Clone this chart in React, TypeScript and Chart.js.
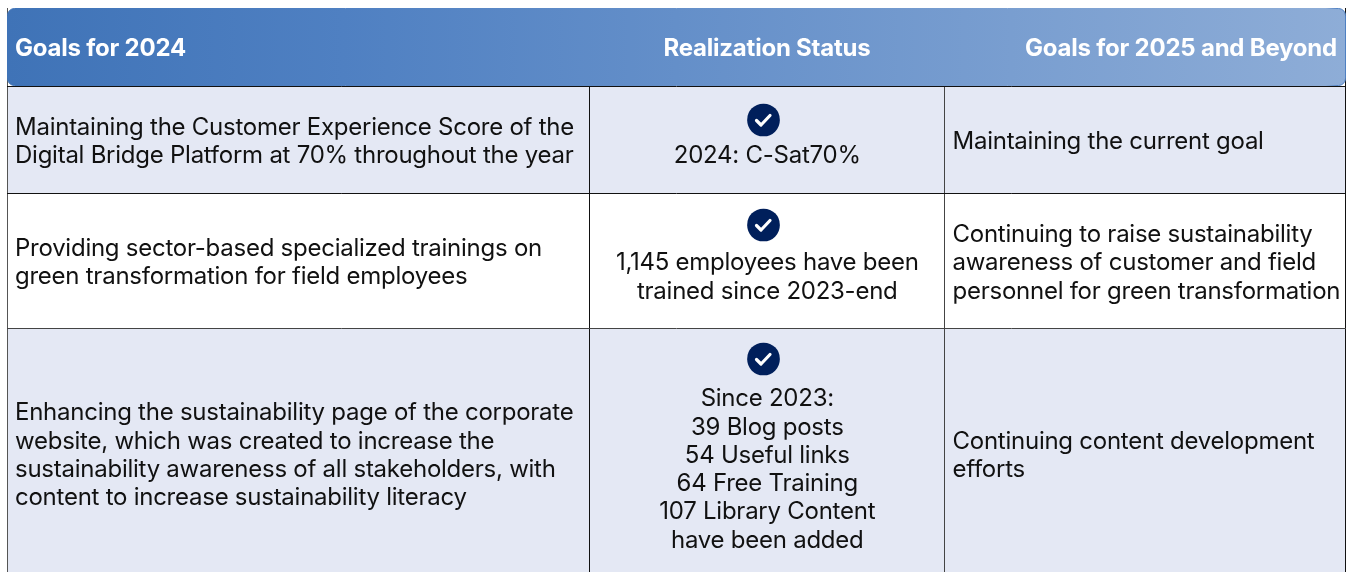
import React, { useEffect, useRef } from "react";
import { Chart, registerables } from "chart.js";

Chart.register(...registerables);

const headers = ["Goals for 2024", "Realization Status", "Goals for 2025 and Beyond"];
const goals2024 = [
  ["Maintaining the Customer Experience Score of the", "Digital Bridge Platform at 70% throughout the year"],
  ["Providing sector-based specialized trainings on", "green transformation for field employees"],
  ["Enhancing the sustainability page of the corporate", "website, which was created to increase the", "sustainability awareness of all stakeholders, with", "content to increase sustainability literacy"],
];
const realization = [
  ["2024: C-Sat70%"],
  ["1,145 employees have been", "trained since 2023-end"],
  ["Since 2023:", "39 Blog posts", "54 Useful links", "64 Free Training", "107 Library Content", "have been added"],
];
const goals2025 = [
  ["Maintaining the current goal"],
  ["Continuing to raise sustainability", "awareness of customer and field", "personnel for green transformation"],
  ["Continuing content development", "efforts"],
];

// Table geometry, in axis units
const colEdges = [7.5, 589.5, 945, 1345.5];
const rowEdges = [86.5, 193.5, 328.5, 580];
const rowFill = ["#E4E8F4", "#FFFFFF", "#E4E8F4"];
const colLineColors = ["#555555", "#111111", "#444444", "#111111"];
const rowLineColors = ["#111111", "#111111", "#444444", "#111111"];
const textCenterY = [142, 263, 455.5];
const statusFirstLineY = [156, 263, 399];
const iconX = 763.5;
const iconY = [120, 225, 359];
const iconRadius = 16;
const lineStep = 28.3;
const FONT = "Inter";
const SIZE = 24;
const bodyRefWidth = 559; // width of the first line in the reference
const headRefWidth = 312; // width of the last header in the reference

function fitSpacing(ctx: CanvasRenderingContext2D, text: string, target: number) {
  ctx.letterSpacing = "0px";
  const w = ctx.measureText(text).width;
  ctx.letterSpacing = `${(target - w) / text.length}px`;
}

const tablePlugin = {
  id: "tableText",
  afterDatasetsDraw(chart: any) {
    const { ctx, scales } = chart;
    const { x, y } = scales;
    ctx.save();
    // check marks on the icon discs
    const cx = (colEdges[1] + colEdges[2]) / 2;
    ctx.strokeStyle = "#FFFFFF";
    ctx.lineWidth = 3.2;
    ctx.lineCap = "round";
    ctx.lineJoin = "round";
    iconY.forEach((v) => {
      const px = x.getPixelForValue(iconX);
      const py = y.getPixelForValue(v);
      ctx.beginPath();
      ctx.moveTo(px - 7, py + 0.5);
      ctx.lineTo(px - 2.5, py + 5);
      ctx.lineTo(px + 6.5, py - 4.5);
      ctx.stroke();
    });
    ctx.textBaseline = "middle";
    ctx.fillStyle = "#111111";
    ctx.font = `${SIZE}px ${FONT}`;
    fitSpacing(ctx, goals2024[0][0], bodyRefWidth);
    const draw = (lines: string[], px: number, centerY: number, align: CanvasTextAlign) => {
      ctx.textAlign = align;
      const top = centerY - ((lines.length - 1) * lineStep) / 2;
      lines.forEach((t, i) => ctx.fillText(t, x.getPixelForValue(px), y.getPixelForValue(top + i * lineStep)));
    };
    goals2024.forEach((l, r) => draw(l, colEdges[0] + 7.5, textCenterY[r], "left"));
    goals2025.forEach((l, r) => draw(l, colEdges[2] + 7.5, textCenterY[r], "left"));
    realization.forEach((l, r) => {
      draw(l, cx, statusFirstLineY[r] + ((l.length - 1) * lineStep) / 2, "center");
    });
    ctx.restore();
  },
  afterDraw(chart: any) {
    // header band sits over the vertical rules
    const { ctx, scales } = chart;
    const { x, y } = scales;
    const l = x.getPixelForValue(colEdges[0]);
    const r = x.getPixelForValue(colEdges[3]);
    const t = y.getPixelForValue(8.5);
    const b = y.getPixelForValue(rowEdges[0]);
    ctx.save();
    const grad = ctx.createLinearGradient(l, 0, r, 0);
    grad.addColorStop(0, "#3F73B7");
    grad.addColorStop(0.25, "#4F80C2");
    grad.addColorStop(1, "#8EADD7");
    const edge = ctx.createLinearGradient(l, 0, r, 0);
    edge.addColorStop(0, "#3F73B7");
    edge.addColorStop(0.25, "#4F80C2");
    edge.addColorStop(0.985, "#8EADD7");
    edge.addColorStop(0.995, "#4F80C2");
    ctx.fillStyle = grad;
    ctx.strokeStyle = edge;
    ctx.lineWidth = 1;
    ctx.beginPath();
    ctx.roundRect(l, t, r - l, b - t - 1, 7);
    ctx.fill();
    ctx.stroke();
    ctx.fillStyle = "#FFFFFF";
    ctx.font = `bold ${SIZE}px ${FONT}`;
    fitSpacing(ctx, headers[2], headRefWidth);
    ctx.textBaseline = "middle";
    const hy = y.getPixelForValue(48.5);
    ctx.textAlign = "left";
    ctx.fillText(headers[0], x.getPixelForValue(15), hy);
    ctx.textAlign = "center";
    ctx.fillText(headers[1], x.getPixelForValue(767), hy);
    ctx.textAlign = "right";
    ctx.fillText(headers[2], x.getPixelForValue(1337), hy);
    ctx.restore();
  },
};

export default function App() {
  const ref = useRef<HTMLCanvasElement>(null);
  useEffect(() => {
    document.body.style.margin = "0";
    document.body.style.background = "#FFFFFF";
    const chart = new Chart(ref.current!, {
      type: "bar",
      data: {
        datasets: [
          ...iconY.map((v) => ({
            type: "bar" as const,
            indexAxis: "y" as const,
            grouped: false,
            data: [{ x: [iconX - iconRadius, iconX + iconRadius], y: v }],
            backgroundColor: "#001F5B",
            borderWidth: 0,
            borderSkipped: false,
            borderRadius: iconRadius,
            barThickness: iconRadius * 2,
            order: 0,
          })),
          ...rowFill.map((color, r) => ({
            type: "bar" as const,
            indexAxis: "y" as const,
            grouped: false,
            data: [{ x: [colEdges[0], colEdges[3]], y: (rowEdges[r] + rowEdges[r + 1]) / 2 }],
            backgroundColor: color,
            borderWidth: 0,
            barThickness: rowEdges[r + 1] - rowEdges[r],
            order: 1,
          })),
        ] as any,
      },
      options: {
        animation: false,
        responsive: false,
        events: [],
        layout: { padding: { left: 7, top: 8, right: 7, bottom: 0 }, autoPadding: false },
        plugins: { legend: { display: false }, tooltip: { enabled: false }, title: { display: false } },
        scales: {
          x: {
            type: "linear",
            min: 7,
            max: 1346,
            display: true,
            offset: false,
            border: { display: false },
            ticks: { display: false },
            grid: {
              offset: false,
              z: 1,
              drawTicks: false,
              color: (c: any) => colLineColors[colEdges.indexOf(c.tick?.value)] ?? "transparent",
              lineWidth: 1,
            },
            afterBuildTicks: (s: any) => {
              s.ticks = colEdges.map((value) => ({ value }));
            },
          },
          y: {
            type: "linear",
            min: 8,
            max: 572,
            reverse: true,
            display: true,
            offset: false,
            border: { display: false },
            ticks: { display: false },
            grid: {
              offset: false,
              z: 1,
              drawTicks: false,
              color: (c: any) => rowLineColors[rowEdges.indexOf(c.tick?.value)] ?? "transparent",
              lineWidth: 1,
            },
            afterBuildTicks: (s: any) => {
              s.ticks = rowEdges.filter((v) => v < 572).map((value) => ({ value }));
            },
          },
        },
      } as any,
      plugins: [tablePlugin],
    });
    return () => chart.destroy();
  }, []);
  return <canvas ref={ref} width={1353} height={572} style={{ display: "block", width: 1353, height: 572 }} />;
}
